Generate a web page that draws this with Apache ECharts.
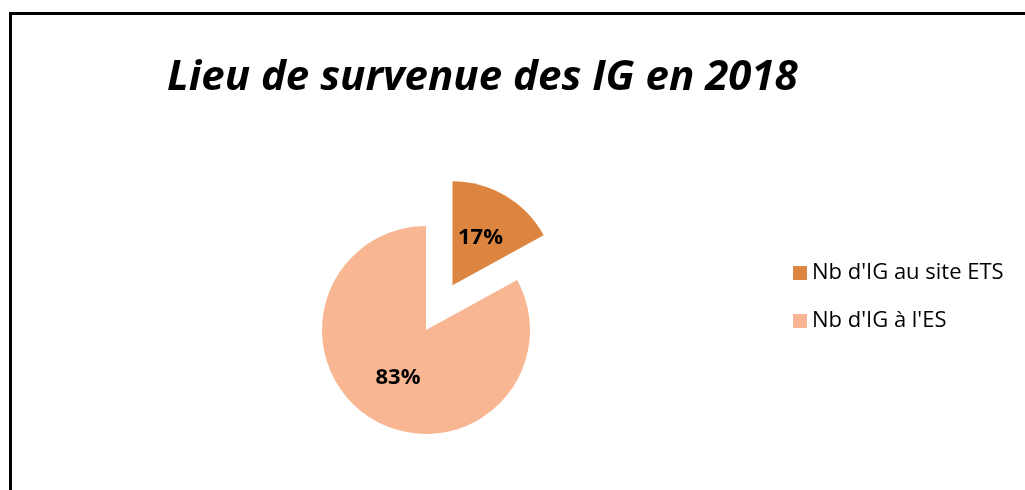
<!DOCTYPE html>
<html>
<head>
<meta charset="utf-8">
<script src="https://cdn.jsdelivr.net/npm/echarts@6/dist/echarts.min.js"></script>
<style>
  html, body { margin: 0; padding: 0; background: #fff; }
  #main { width: 1025px; height: 490px; }
</style>
</head>
<body>
<div id="main"></div>
<script>
// Lieu de survenue des IG en 2018
var titre = 'Lieu de survenue des IG en 2018';
var categories = ["Nb d'IG au site ETS", "Nb d'IG à l'ES"];
var valeurs = [17, 83];
var couleurs = ['#DC8540', '#F9B692'];

var chart = echarts.init(document.getElementById('main'));

var option = {
    backgroundColor: '#ffffff',
    animation: false,
    color: couleurs,
    title: {
        text: titre,
        left: 162,
        top: 52,
        textStyle: {
            fontFamily: 'Open Sans',
            fontStyle: 'italic',
            fontWeight: 'bold',
            fontSize: 42,
            color: '#000'
        }
    },
    legend: {
        orient: 'vertical',
        left: 788,
        top: 257,
        icon: 'rect',
        itemWidth: 14,
        itemHeight: 14,
        itemGap: 26,
        selectedMode: false,
        data: categories,
        textStyle: {
            fontFamily: 'Open Sans',
            fontSize: 22,
            color: '#000'
        }
    },
    graphic: [{
        type: 'rect',
        silent: true,
        shape: { x: 10.5, y: 13.5, width: 1040, height: 520 },
        style: { fill: null, stroke: '#000', lineWidth: 3 }
    }],
    series: [{
        type: 'pie',
        center: [426, 330],
        radius: 104,
        startAngle: 90,
        clockwise: true,
        selectedMode: 'single',
        selectedOffset: 52,
        label: {
            show: true,
            position: 'inside',
            formatter: '{d}%',
            fontFamily: 'Open Sans',
            fontWeight: 'bold',
            fontSize: 22,
            color: '#000'
        },
        labelLine: { show: false },
        emphasis: { disabled: true },
        data: categories.map(function (c, i) {
            return { name: c, value: valeurs[i], selected: i === 0 };
        })
    }]
};
chart.setOption(option);
</script>
</body>
</html>
